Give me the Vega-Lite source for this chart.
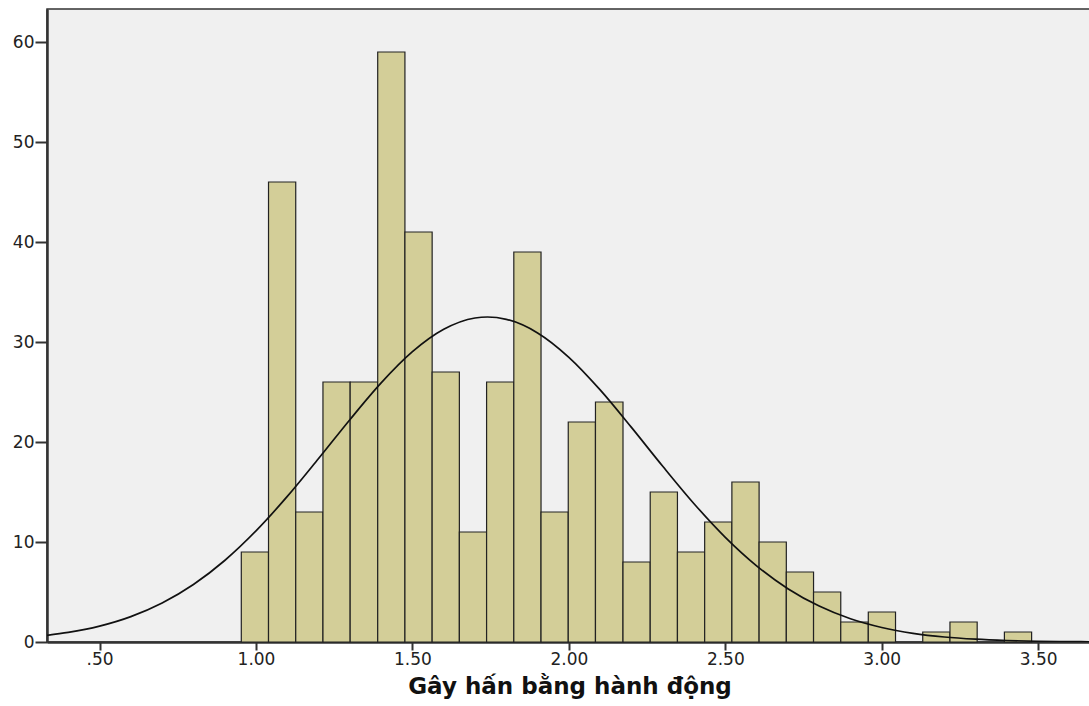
{
  "$schema": "https://vega.github.io/schema/vega-lite/v6.json",
  "width": 1045,
  "height": 633,
  "autosize": {"type": "none"},
  "padding": {"left": 47, "top": 9, "right": 0, "bottom": 64},
  "background": "#ffffff",
  "config": {
    "view": {"fill": "#f0f0f0", "stroke": "#333333", "strokeWidth": 1.5},
    "axis": {
      "labelFont": "DejaVu Sans",
      "labelFontSize": 17,
      "labelColor": "#222222",
      "domainColor": "#333333",
      "domainWidth": 2.5,
      "tickColor": "#333333",
      "tickWidth": 2,
      "grid": false
    }
  },
  "datasets": {
    "bins": [
      {"lo": 0.953, "hi": 1.040, "count": 9},
      {"lo": 1.040, "hi": 1.127, "count": 46},
      {"lo": 1.127, "hi": 1.214, "count": 13},
      {"lo": 1.214, "hi": 1.301, "count": 26},
      {"lo": 1.301, "hi": 1.389, "count": 26},
      {"lo": 1.389, "hi": 1.476, "count": 59},
      {"lo": 1.476, "hi": 1.563, "count": 41},
      {"lo": 1.563, "hi": 1.650, "count": 27},
      {"lo": 1.650, "hi": 1.737, "count": 11},
      {"lo": 1.737, "hi": 1.824, "count": 26},
      {"lo": 1.824, "hi": 1.911, "count": 39},
      {"lo": 1.911, "hi": 1.998, "count": 13},
      {"lo": 1.998, "hi": 2.085, "count": 22},
      {"lo": 2.085, "hi": 2.173, "count": 24},
      {"lo": 2.173, "hi": 2.260, "count": 8},
      {"lo": 2.260, "hi": 2.347, "count": 15},
      {"lo": 2.347, "hi": 2.434, "count": 9},
      {"lo": 2.434, "hi": 2.521, "count": 12},
      {"lo": 2.521, "hi": 2.608, "count": 16},
      {"lo": 2.608, "hi": 2.695, "count": 10},
      {"lo": 2.695, "hi": 2.782, "count": 7},
      {"lo": 2.782, "hi": 2.869, "count": 5},
      {"lo": 2.869, "hi": 2.957, "count": 2},
      {"lo": 2.957, "hi": 3.044, "count": 3},
      {"lo": 3.131, "hi": 3.218, "count": 1},
      {"lo": 3.218, "hi": 3.305, "count": 2},
      {"lo": 3.392, "hi": 3.479, "count": 1}
    ],
    "normal": [
      {"score": 0.33, "freq": 0.66},
      {"score": 0.4, "freq": 0.96},
      {"score": 0.5, "freq": 1.59},
      {"score": 0.6, "freq": 2.54},
      {"score": 0.7, "freq": 3.90},
      {"score": 0.8, "freq": 5.75},
      {"score": 0.9, "freq": 8.15},
      {"score": 1.0, "freq": 11.11},
      {"score": 1.1, "freq": 14.56},
      {"score": 1.2, "freq": 18.35},
      {"score": 1.3, "freq": 22.23},
      {"score": 1.4, "freq": 25.91},
      {"score": 1.5, "freq": 29.03},
      {"score": 1.6, "freq": 31.27},
      {"score": 1.7, "freq": 32.40},
      {"score": 1.74, "freq": 32.5},
      {"score": 1.8, "freq": 32.27},
      {"score": 1.9, "freq": 30.91},
      {"score": 2.0, "freq": 28.47},
      {"score": 2.1, "freq": 25.21},
      {"score": 2.2, "freq": 21.46},
      {"score": 2.3, "freq": 17.57},
      {"score": 2.4, "freq": 13.83},
      {"score": 2.5, "freq": 10.47},
      {"score": 2.6, "freq": 7.62},
      {"score": 2.7, "freq": 5.33},
      {"score": 2.8, "freq": 3.59},
      {"score": 2.9, "freq": 2.32},
      {"score": 3.0, "freq": 1.45},
      {"score": 3.1, "freq": 0.87},
      {"score": 3.2, "freq": 0.50},
      {"score": 3.3, "freq": 0.28},
      {"score": 3.4, "freq": 0.15},
      {"score": 3.5, "freq": 0.07},
      {"score": 3.6, "freq": 0.04},
      {"score": 3.67, "freq": 0.02}
    ]
  },
  "layer": [
    {
      "data": {"name": "bins"},
      "mark": {"type": "bar", "fill": "#d3ce98", "stroke": "#222222", "strokeWidth": 1.2},
      "encoding": {
        "x": {
          "field": "lo",
          "type": "quantitative",
          "scale": {"domain": [0.332, 3.672], "nice": false, "zero": false},
          "axis": {
            "values": [0.5, 1, 1.5, 2, 2.5, 3, 3.5],
            "labelExpr": "datum.value < 1 ? slice(format(datum.value, '.2f'), 1) : format(datum.value, '.2f')",
            "tickSize": 8,
            "labelPadding": 1,
            "title": "Gây hấn bằng hành động",
            "titleFont": "DejaVu Sans",
            "titleFontSize": 23,
            "titleFontWeight": "bold",
            "titleColor": "#111111",
            "titlePadding": 8
          }
        },
        "x2": {"field": "hi"},
        "y": {
          "field": "count",
          "type": "quantitative",
          "scale": {"domain": [0, 63.3], "nice": false},
          "axis": {
            "values": [0, 10, 20, 30, 40, 50, 60],
            "tickSize": 12,
            "labelPadding": 1,
            "title": null
          }
        },
        "y2": {"datum": 0}
      }
    },
    {
      "data": {"name": "normal"},
      "mark": {"type": "line", "color": "#111111", "strokeWidth": 1.7, "interpolate": "monotone", "clip": true},
      "encoding": {
        "x": {"field": "score", "type": "quantitative"},
        "y": {"field": "freq", "type": "quantitative"}
      }
    }
  ]
}
